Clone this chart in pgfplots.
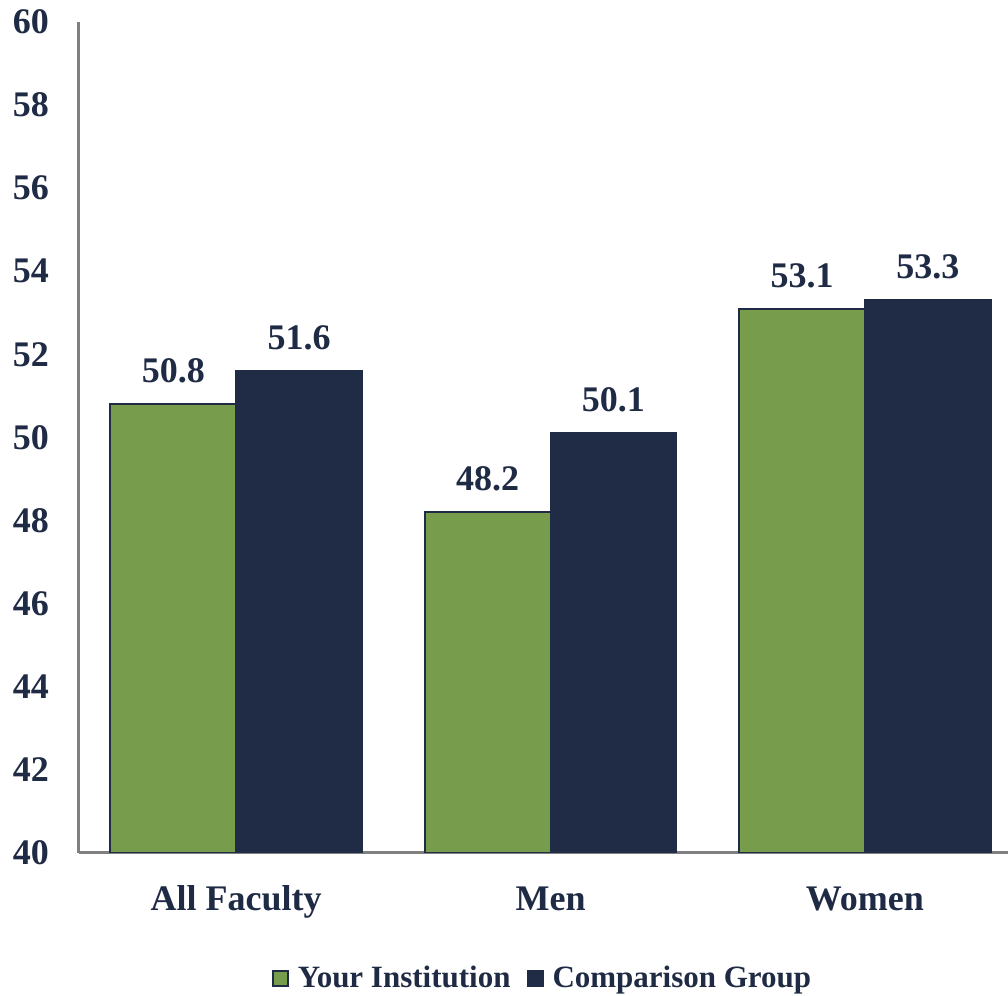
\documentclass[border=0pt]{standalone}
\usepackage{pgfplots}
\pgfplotsset{compat=1.18}
\usepackage{fontspec}
\setmainfont{Liberation Serif}

\definecolor{navy}{HTML}{202B45}
\definecolor{txt}{HTML}{1F2A44}
\definecolor{grn}{HTML}{779C4B}
\definecolor{axgray}{HTML}{808080}

\begin{document}
\begin{tikzpicture}
  \useasboundingbox (-39.5pt,-71.5pt) rectangle (464.5pt,426.5pt);
  \begin{axis}[
    scale only axis,
    width=464.5pt, height=415.5pt,
    xmin=-0.5, xmax=2.455,
    ymin=40, ymax=60,
    ytick={40,42,...,60},
    xtick={0,1,2},
    xticklabels={All Faculty, Men, Women},
    axis x line*=bottom, axis y line*=left,
    axis line style={-, axgray, line width=1.5pt},
    major tick length=0pt,
    /pgf/number format/assume math mode=true,
    ticklabel style={font=\bfseries\fontsize{18}{20}\selectfont, text=txt},
    yticklabel style={xshift=-11.5pt},
    xticklabel style={yshift=-12pt, text height=13pt, text depth=4pt},
    ybar=0pt,
    bar width=0.4,
    nodes near coords,
    nodes near coords style={font=\bfseries\fontsize{18}{20}\selectfont, text=txt,
      inner sep=0pt, yshift=10pt,
      /pgf/number format/.cd, fixed, precision=1, fixed zerofill, assume math mode=true},
    legend style={at={(0.5,-0.1505)}, anchor=center, draw=none, fill=none,
      font=\bfseries\fontsize{15.5}{17}\selectfont, text=txt,
      legend columns=2, /tikz/every even column/.append style={column sep=6pt}},
    legend image code/.code={\fill[#1] (-3.5pt,-3.75pt) rectangle (4pt,3.75pt);
      \path[draw=none, fill=none] (4pt,0) -- (7pt,0);},
  ]
    \addplot[fill=grn, draw=navy, line width=1pt]
      coordinates {(0,50.8) (1,48.2) (2,53.1)};
    \addlegendentry{Your Institution}
    \addplot[fill=navy, draw=navy, line width=1pt]
      coordinates {(0,51.6) (1,50.1) (2,53.3)};
    \addlegendentry{Comparison Group}
  \end{axis}
\end{tikzpicture}
\end{document}
